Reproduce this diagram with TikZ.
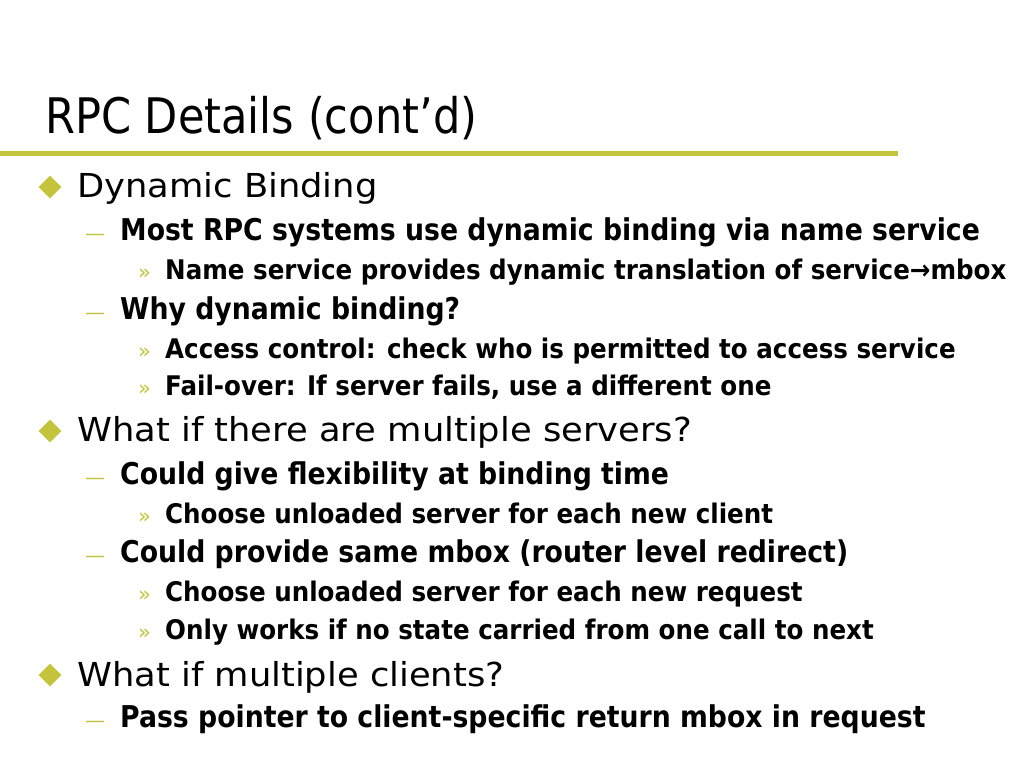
\documentclass[tikz,border=0pt]{standalone}
\usepackage{fontspec}
\setmainfont{DejaVu Sans}
\newfontfamily\titlefamily{DejaVu Sans}[FakeStretch=0.88]
\newfontfamily\lvlonefamily{DejaVu Sans}[FakeStretch=1.07]
\newfontfamily\lvltwofamily{DejaVu Sans}[FakeStretch=0.89]
\newfontfamily\lvlthreefamily{DejaVu Sans}[FakeStretch=0.91]
\usetikzlibrary{shapes.geometric}
\definecolor{slideolive}{RGB}{196,196,60}
\tikzset{
  titletext/.style={anchor=base west, inner sep=0pt, font=\titlefamily\fontsize{49}{55}\selectfont},
  lvlone/.style={anchor=base west, inner sep=0pt, font=\lvlonefamily\fontsize{33}{38}\selectfont},
  lvltwo/.style={anchor=base west, inner sep=0pt, font=\lvltwofamily\bfseries\fontsize{30}{34}\selectfont},
  lvlthree/.style={anchor=base west, inner sep=0pt, font=\lvlthreefamily\bfseries\fontsize{27}{31}\selectfont},
  diamondbullet/.style={diamond, fill=slideolive, minimum size=23pt, inner sep=0pt},
  dashbullet/.style={anchor=base west, inner sep=0pt, text=slideolive, font=\fontsize{20}{24}\selectfont},
  quotebullet/.style={anchor=base west, inner sep=0pt, text=slideolive, font=\fontsize{21}{24}\selectfont}
}
\begin{document}
\begin{tikzpicture}[x=1pt,y=-1pt]
        \useasboundingbox[fill=white] (0,0) rectangle (1024,768);
        \node[titletext] (title) at (45,133) {RPC Details (cont’d)};
        \fill[slideolive] (0,151) rectangle (898,156);

        \node[diamondbullet] (b1) at (50,187) {};
        \node[lvlone] (dynbind) at (77,197) {Dynamic Binding};
        \node[dashbullet] (d1) at (85,240) {—};
        \node[lvltwo] (mostrpc) at (120,240) {Most RPC systems use dynamic binding via name service};
        \node[quotebullet] (q1) at (138,279) {»};
        \node[lvlthree] (namesvc) at (165,279) {Name service provides dynamic translation of service→mbox};
        \node[dashbullet] (d2) at (85,319) {—};
        \node[lvltwo] (whydyn) at (120,319) {Why dynamic binding?};
        \node[quotebullet] (q2) at (138,358) {»};
        \node[lvlthree] (access) at (165,358) {Access control: check who is permitted to access service};
        \node[quotebullet] (q3) at (138,395) {»};
        \node[lvlthree] (failover) at (165,395) {Fail-over: If server fails, use a different one};

        \node[diamondbullet] (b2) at (50,431) {};
        \node[lvlone] (multsrv) at (77,441) {What if there are multiple servers?};
        \node[dashbullet] (d3) at (85,484) {—};
        \node[lvltwo] (flex) at (120,484) {Could give flexibility at binding time};
        \node[quotebullet] (q4) at (138,523) {»};
        \node[lvlthree] (newclient) at (165,523) {Choose unloaded server for each new client};
        \node[dashbullet] (d4) at (85,562) {—};
        \node[lvltwo] (samembox) at (120,562) {Could provide same mbox (router level redirect)};
        \node[quotebullet] (q5) at (138,601) {»};
        \node[lvlthree] (newreq) at (165,601) {Choose unloaded server for each new request};
        \node[quotebullet] (q6) at (138,639) {»};
        \node[lvlthree] (nostate) at (165,639) {Only works if no state carried from one call to next};

        \node[diamondbullet] (b3) at (50,675) {};
        \node[lvlone] (multcli) at (77,686) {What if multiple clients?};
        \node[dashbullet] (d5) at (85,727) {—};
        \node[lvltwo] (passptr) at (120,727) {Pass pointer to client-specific return mbox in request};
\end{tikzpicture}
\end{document}
